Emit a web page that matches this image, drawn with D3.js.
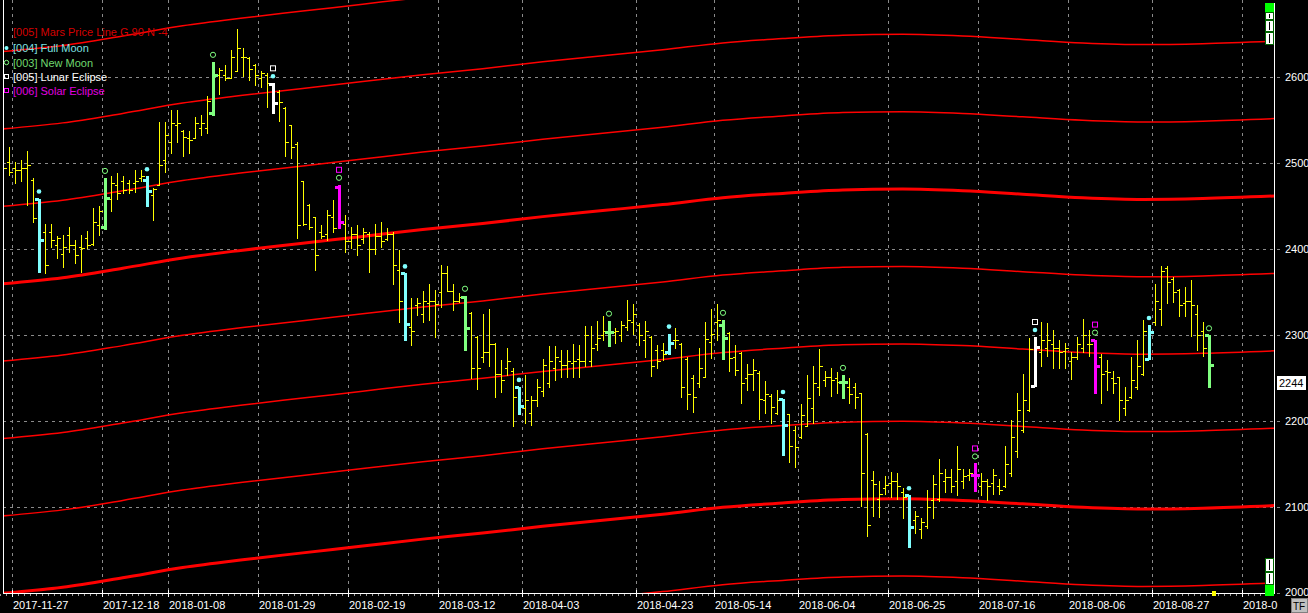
<!DOCTYPE html>
<html>
<head>
<meta charset="utf-8">
<script src="https://cdn.jsdelivr.net/npm/d3@7"></script>
<style>
html, body { margin: 0; padding: 0; background: #000; overflow: hidden; }
svg { display: block; }
</style>
</head>
<body>
<svg id="chart"></svg>
<script>
const WIDTH = 1308;
const HEIGHT = 613;
const PLOT_LEFT = 3;
const PLOT_RIGHT = 1274.5;
const PLOT_TOP = 0;
const PLOT_BOTTOM = 593.5;

// daily bars
const OPEN = [
  2500,2502,2494,2492,2494,2481,2459,2420,2420,2405,
  2395,2417,2405,2403,2413,2406,2428,2426,2459,2475,
  2479,2477,2477,2483,2481,2463,2475,2504,2525,2545,
  2537,2529,2529,2541,2541,2558,2603,2603,2599,2607,
  2624,2622,2614,2599,2603,2592,2583,2564,2545,2523,
  2479,2451,2437,2420,2418,2438,2472,2430,2410,2418,
  2412,2418,2400,2415,2412,2418,2376,2372,2310,2335,
  2325,2338,2340,2350,2372,2352,2340,2345,2326,2298,
  2275,2280,2290,2255,2262,2258,2240,2215,2210,2225,
  2235,2245,2262,2270,2265,2268,2272,2270,2270,2290,
  2300,2304,2304,2300,2310,2316,2312,2295,2298,2283,
  2283,2280,2295,2290,2272,2250,2245,2251,2292,2315,
  2312,2303,2275,2279,2250,2255,2256,2225,2230,2210,
  2226,2209,2190,2182,2195,2215,2240,2248,2252,2250,
  2246,2240,2240,2233,2185,2132,2110,2122,2128,2130,
  2118,2114,2085,2075,2078,2108,2110,2130,2135,2130,
  2130,2138,2138,2125,2130,2128,2125,2125,2140,2165,
  2190,2213,2241,2280,2285,2290,2285,2282,2270,2275,
  2285,2290,2294,2275,2258,2250,2251,2215,2228,2240,
  2255,2273,2315,2330,2378,2365,2353,2338,2340,2325,
  2305,2300
];
const HIGH = [
  2517,2519,2502,2504,2514,2483,2459,2429,2429,2415,
  2417,2426,2411,2417,2421,2448,2450,2483,2485,2489,
  2485,2481,2492,2492,2485,2471,2548,2548,2562,2562,
  2539,2537,2554,2556,2578,2618,2611,2614,2632,2656,
  2634,2624,2616,2607,2605,2593,2585,2566,2545,2525,
  2479,2453,2438,2428,2446,2457,2475,2440,2426,2428,
  2425,2420,2430,2432,2425,2420,2399,2372,2343,2343,
  2351,2360,2353,2382,2381,2360,2349,2346,2327,2299,
  2325,2331,2291,2271,2285,2262,2240,2254,2229,2249,
  2272,2287,2287,2283,2283,2290,2289,2311,2311,2317,
  2322,2317,2309,2317,2341,2336,2314,2317,2299,2289,
  2291,2302,2308,2291,2275,2254,2285,2316,2331,2336,
  2318,2304,2289,2280,2267,2272,2258,2247,2232,2236,
  2226,2209,2195,2220,2254,2264,2284,2259,2262,2257,
  2254,2250,2244,2233,2186,2142,2131,2136,2141,2140,
  2122,2114,2096,2087,2120,2138,2156,2144,2144,2171,
  2144,2145,2151,2140,2133,2145,2133,2171,2202,2233,
  2255,2297,2298,2315,2314,2306,2294,2291,2281,2298,
  2319,2306,2295,2278,2271,2258,2252,2240,2275,2294,
  2318,2312,2360,2381,2381,2368,2354,2356,2364,2335,
  2316,2300
];
const LOW = [
  2479,2486,2477,2479,2452,2432,2374,2372,2403,2390,
  2380,2397,2384,2374,2401,2405,2417,2424,2444,2459,
  2465,2465,2467,2479,2450,2434,2475,2490,2512,2525,
  2508,2512,2529,2533,2535,2556,2581,2597,2599,2607,
  2601,2597,2591,2589,2566,2558,2549,2508,2506,2413,
  2428,2424,2376,2413,2411,2420,2425,2397,2401,2393,
  2407,2374,2395,2403,2411,2360,2315,2295,2289,2324,
  2316,2318,2298,2333,2351,2329,2339,2283,2250,2238,
  2269,2264,2228,2234,2254,2194,2208,2198,2196,2218,
  2229,2240,2248,2251,2251,2251,2251,2264,2264,2283,
  2295,2288,2291,2293,2306,2302,2289,2275,2253,2262,
  2271,2278,2285,2228,2214,2211,2240,2251,2274,2295,
  2273,2258,2254,2221,2236,2236,2203,2210,2198,2209,
  2161,2153,2147,2181,2194,2198,2231,2241,2229,2233,
  2227,2221,2215,2102,2067,2090,2089,2116,2112,2110,
  2087,2054,2070,2064,2076,2088,2107,2118,2118,2114,
  2122,2132,2119,2114,2109,2116,2116,2124,2136,2159,
  2187,2212,2241,2264,2276,2262,2262,2262,2249,2273,
  2281,2276,2233,2221,2236,2233,2202,2207,2227,2237,
  2254,2272,2312,2312,2338,2339,2322,2322,2299,2283,
  2276,2240
];
const CLOSE = [
  2494,2490,2492,2494,2498,2436,2411,2382,2411,2413,
  2403,2405,2393,2401,2405,2432,2444,2460,2477,2465,
  2469,2469,2479,2485,2468,2470,2498,2533,2547,2547,
  2531,2527,2547,2547,2572,2603,2609,2599,2624,2634,
  2624,2610,2603,2605,2593,2570,2571,2525,2519,2428,
  2430,2426,2393,2416,2440,2425,2432,2410,2418,2405,
  2420,2400,2415,2410,2418,2382,2340,2313,2305,2338,
  2340,2340,2336,2372,2352,2340,2345,2309,2262,2262,
  2280,2290,2255,2248,2270,2228,2218,2225,2225,2240,
  2265,2270,2275,2265,2270,2270,2270,2300,2285,2297,
  2305,2304,2305,2312,2318,2325,2300,2305,2264,2270,
  2278,2291,2295,2240,2232,2228,2262,2296,2302,2318,
  2297,2274,2260,2245,2255,2260,2226,2232,2217,2225,
  2196,2171,2170,2207,2227,2245,2264,2251,2248,2246,
  2246,2232,2228,2140,2079,2127,2115,2126,2130,2125,
  2112,2077,2090,2083,2100,2127,2140,2135,2125,2145,
  2136,2140,2138,2130,2125,2138,2120,2150,2182,2213,
  2225,2284,2286,2295,2295,2285,2280,2285,2275,2290,
  2300,2290,2264,2255,2257,2245,2225,2225,2248,2264,
  2305,2304,2340,2375,2362,2350,2335,2340,2335,2300,
  2285,2266
];

// bars flagged by the event studies
const FULL_MOON = [6, 24, 45, 67, 86, 111, 130, 151, 172, 191];
const NEW_MOON = [17, 35, 56, 77, 101, 120, 140, 162, 182, 201];
const LUNAR_ECLIPSE = [45, 172];
const SOLAR_ECLIPSE = [56, 162, 182];

// Mars price line (base harmonic), bar index -> price
const MARS_BAR = [0, 10, 20, 30, 40, 50, 60, 70, 80, 90, 100, 110, 120, 130, 140, 150, 160, 170, 180, 190, 200, 212];
const MARS_PRICE = [2360, 2367, 2378, 2390, 2399, 2407, 2415, 2423, 2430, 2438, 2445, 2452, 2460, 2465, 2469, 2470, 2468, 2464, 2460, 2458, 2459, 2462];
const MARS_GAP = 90;
const MARS_LEVELS = [-5, -4, -3, -2, -1, 0, 1, 2, 3];

const PRICE_TICKS = [2000, 2100, 2200, 2300, 2400, 2500, 2600];
const DATE_TICK_BARS = [2, 17, 28, 43, 58, 73, 87, 106, 119, 133, 148, 163, 178, 192, 207];
const DATE_TICK_LABELS = ['2017-11-27', '2017-12-18', '2018-01-08', '2018-01-29', '2018-02-19', '2018-03-12', '2018-04-03',
  '2018-04-23', '2018-05-14', '2018-06-04', '2018-06-25', '2018-07-16', '2018-08-06', '2018-08-27', '2018-09-17'];
const LAST_PRICE = 2244;

const LEGEND = [
  { text: '[005] Mars Price Line G 90 N -4', color: '#d40000', mark: null },
  { text: '[004] Full Moon', color: '#7fe0e0', mark: 'dot' },
  { text: '[003] New Moon', color: '#6fd86f', mark: 'circle' },
  { text: '[005] Lunar Eclipse', color: '#ffffff', mark: 'square' },
  { text: '[006] Solar Eclipse', color: '#e000e0', mark: 'square' }
];

const FONT = '"Liberation Sans", Arial, sans-serif';
const COLOR_FULL = '#80ffff';
const COLOR_NEW = '#80ff80';
const COLOR_LUNAR = '#ffffff';
const COLOR_SOLAR = '#ff00ff';

const nBars = OPEN.length;

const xScale = d3.scaleLinear().domain([0, 212]).range([2.7, 2.7 + 6 * 212]);
const yScale = d3.scaleLinear().domain([2000, 2600]).range([593.3, 77.3]);
const px = i => Math.round(xScale(i)) + 0.5;

const svg = d3.select('#chart').attr('width', WIDTH).attr('height', HEIGHT)
  .style('background', '#000');

const defs = svg.append('defs');
defs.append('clipPath').attr('id', 'plot-clip')
  .append('rect').attr('x', PLOT_LEFT).attr('y', PLOT_TOP)
  .attr('width', PLOT_RIGHT - PLOT_LEFT).attr('height', PLOT_BOTTOM - PLOT_TOP);

// grid
const grid = svg.append('g').attr('stroke', '#8a8a8a').attr('stroke-width', 1).attr('stroke-dasharray', '3,4');
grid.selectAll('line.h').data(PRICE_TICKS).join('line')
  .attr('class', 'h')
  .attr('x1', PLOT_LEFT).attr('x2', 1281)
  .attr('y1', d => Math.round(yScale(d)) + 0.5)
  .attr('y2', d => Math.round(yScale(d)) + 0.5);
grid.selectAll('line.v').data(DATE_TICK_BARS).join('line')
  .attr('class', 'v')
  .attr('x1', d => Math.round(xScale(d) - 3) + 0.5)
  .attr('x2', d => Math.round(xScale(d) - 3) + 0.5)
  .attr('y1', PLOT_TOP).attr('y2', PLOT_BOTTOM);

// Mars price lines
const marsPts = MARS_BAR.map((b, i) => ({ bar: b, price: MARS_PRICE[i] }));
const marsG = svg.append('g').attr('clip-path', 'url(#plot-clip)');
MARS_LEVELS.forEach(level => {
  const line = d3.line()
    .x(d => xScale(d.bar))
    .y(d => yScale(d.price + level * MARS_GAP))
    .curve(d3.curveMonotoneX);
  marsG.append('path')
    .datum(marsPts)
    .attr('fill', 'none')
    .attr('stroke', '#ff0000')
    .attr('stroke-width', level % 4 === 0 ? 3 : 1.5)
    .attr('d', line);
});

// OHLC bars
const bars = d3.range(nBars).map(i => ({
  i, o: OPEN[i], h: HIGH[i], l: LOW[i], c: CLOSE[i],
  full: FULL_MOON.includes(i), nw: NEW_MOON.includes(i),
  lunar: LUNAR_ECLIPSE.includes(i), solar: SOLAR_ECLIPSE.includes(i)
}));
const barColor = d => d.solar ? COLOR_SOLAR : d.lunar ? COLOR_LUNAR : d.full ? COLOR_FULL : d.nw ? COLOR_NEW : '#ffff00';
const isEvent = d => d.full || d.nw || d.lunar || d.solar;

const barG = svg.append('g').attr('clip-path', 'url(#plot-clip)').attr('shape-rendering', 'crispEdges');
const plain = bars.filter(d => !isEvent(d));
const special = bars.filter(isEvent);

const pg = barG.selectAll('g.bar').data(plain).join('g').attr('class', 'bar').attr('stroke', '#ffff00');
pg.append('line').attr('x1', d => px(d.i)).attr('x2', d => px(d.i))
  .attr('y1', d => Math.round(yScale(d.h))).attr('y2', d => Math.round(yScale(d.l)) + 1);
pg.append('line').attr('x1', d => px(d.i) - 3).attr('x2', d => px(d.i))
  .attr('y1', d => Math.round(yScale(d.o)) + 0.5).attr('y2', d => Math.round(yScale(d.o)) + 0.5);
pg.append('line').attr('x1', d => px(d.i)).attr('x2', d => px(d.i) + 3)
  .attr('y1', d => Math.round(yScale(d.c)) + 0.5).attr('y2', d => Math.round(yScale(d.c)) + 0.5);

const sg = barG.selectAll('g.ev').data(special).join('g').attr('class', 'ev')
  .attr('fill', barColor);
sg.append('rect').attr('x', d => px(d.i) - 1.5).attr('width', 3)
  .attr('y', d => Math.round(yScale(d.h))).attr('height', d => Math.round(yScale(d.l)) - Math.round(yScale(d.h)) + 1);
sg.append('rect').attr('x', d => px(d.i) - 4.5).attr('width', 4).attr('height', 3)
  .attr('y', d => Math.round(yScale(d.o)) - 1);
sg.append('rect').attr('x', d => px(d.i) + 0.5).attr('width', 4).attr('height', 3)
  .attr('y', d => Math.round(yScale(d.c)) - 1);

// event markers above the bars
const markG = svg.append('g');
special.forEach(d => {
  const x = px(d.i) - 0.5;
  let y = yScale(d.h) - 7;
  if (d.full) {
    markG.append('circle').attr('cx', x).attr('cy', y).attr('r', 2.3).attr('fill', COLOR_FULL);
    y -= 8;
  } else if (d.nw) {
    markG.append('circle').attr('cx', x).attr('cy', y).attr('r', 2.6)
      .attr('fill', 'none').attr('stroke', COLOR_NEW).attr('stroke-width', 1);
    y -= 8;
  }
  if (d.lunar || d.solar) {
    markG.append('rect').attr('x', x - 2.5).attr('y', y - 2.5).attr('width', 5).attr('height', 5)
      .attr('fill', 'none').attr('stroke', d.lunar ? COLOR_LUNAR : COLOR_SOLAR).attr('stroke-width', 1);
  }
});

// frame
const frame = svg.append('g').attr('stroke', '#ffffff').attr('stroke-width', 1).attr('shape-rendering', 'crispEdges');
frame.append('line').attr('x1', PLOT_LEFT + 0.5).attr('x2', PLOT_LEFT + 0.5).attr('y1', 0).attr('y2', PLOT_BOTTOM);
frame.append('line').attr('x1', PLOT_RIGHT).attr('x2', PLOT_RIGHT).attr('y1', 2.5).attr('y2', PLOT_BOTTOM);
frame.append('line').attr('x1', PLOT_LEFT).attr('x2', PLOT_RIGHT).attr('y1', PLOT_BOTTOM).attr('y2', PLOT_BOTTOM);

// x axis small ticks
svg.append('g').attr('stroke', '#9a9a9a').attr('shape-rendering', 'crispEdges')
  .selectAll('line').data(d3.range(0, 212)).join('line')
  .attr('x1', d => Math.round(xScale(d) - 3) + 0.5).attr('x2', d => Math.round(xScale(d) - 3) + 0.5)
  .attr('y1', PLOT_BOTTOM + 0.5).attr('y2', PLOT_BOTTOM + 2);
svg.append('g').attr('stroke', '#ffffff').attr('shape-rendering', 'crispEdges')
  .selectAll('line').data(DATE_TICK_BARS).join('line')
  .attr('x1', d => Math.round(xScale(d) - 3) + 0.5).attr('x2', d => Math.round(xScale(d) - 3) + 0.5)
  .attr('y1', PLOT_BOTTOM - 4).attr('y2', PLOT_BOTTOM + 3);

// date labels; the last one is cut at the right border like the original
const dateText = svg.append('g')
  .selectAll('text').data(DATE_TICK_BARS).join('text')
  .attr('x', d => Math.round(xScale(d) - 3) + 1)
  .attr('y', 608.5)
  .attr('fill', '#ffffff')
  .attr('font-family', FONT).attr('font-size', 11)
  .text((d, i) => DATE_TICK_LABELS[i]);
dateText.each(function() {
  const t = d3.select(this);
  const x0 = +t.attr('x');
  let s = t.text();
  while (s.length > 1 && x0 + this.getComputedTextLength() > PLOT_RIGHT + 4) {
    s = s.slice(0, -1);
    t.text(s);
  }
});

// y axis labels
svg.append('g').selectAll('text').data(PRICE_TICKS).join('text')
  .attr('x', 1285).attr('y', d => Math.min(yScale(d) + 4, 595.5))
  .attr('fill', '#ffffff')
  .attr('font-family', FONT).attr('font-size', 11)
  .text(d => d);

// last price tag
const lastY = yScale(LAST_PRICE);
svg.append('rect').attr('x', 1276.5).attr('y', Math.round(lastY) - 7.5).attr('width', 30).attr('height', 15)
  .attr('fill', '#ffffff').attr('stroke', '#000').attr('shape-rendering', 'crispEdges');
svg.append('text').attr('x', 1279).attr('y', lastY + 4)
  .attr('fill', '#000').attr('font-family', FONT).attr('font-size', 11).text(LAST_PRICE);

// legend
const leg = svg.append('g');
LEGEND.forEach((d, i) => {
  const y = [31.5, 48, 62.5, 76.5, 90.5][i];
  leg.append('text').attr('x', 13).attr('y', y + 4)
    .attr('fill', d.color).attr('font-family', FONT).attr('font-size', 11).text(d.text);
  if (d.mark === 'dot') {
    leg.append('circle').attr('cx', 6.5).attr('cy', y).attr('r', 2).attr('fill', COLOR_FULL);
  } else if (d.mark === 'circle') {
    leg.append('circle').attr('cx', 6.5).attr('cy', y).attr('r', 2.2)
      .attr('fill', 'none').attr('stroke', COLOR_NEW).attr('stroke-width', 1);
  } else if (d.mark === 'square') {
    leg.append('rect').attr('x', 4.5).attr('y', y - 2).attr('width', 4).attr('height', 4)
      .attr('fill', 'none').attr('stroke', i === 3 ? COLOR_LUNAR : COLOR_SOLAR).attr('stroke-width', 1);
  }
});

// scroll / zoom widgets at the right edge
const wid = svg.append('g').attr('shape-rendering', 'crispEdges');
wid.append('rect').attr('x', 1265).attr('y', 3).attr('width', 9).attr('height', 9).attr('fill', '#00ff00');
[[12, 7], [20, 11], [32, 12], [558, 13], [572, 12]].forEach(([y, h]) => {
  wid.append('rect').attr('x', 1265.5).attr('y', y + 0.5).attr('width', 8).attr('height', h)
    .attr('fill', '#ffffff').attr('stroke', '#006400');
  wid.append('line').attr('x1', 1269.5).attr('x2', 1269.5).attr('y1', y + 2).attr('y2', y + h - 1)
    .attr('stroke', '#000');
});
wid.append('rect').attr('x', 1265).attr('y', 585).attr('width', 9).attr('height', 8).attr('fill', '#00ff00');
wid.append('rect').attr('x', 1212).attr('y', 591).attr('width', 4).attr('height', 5).attr('fill', '#ffff00');
wid.append('rect').attr('x', 1265).attr('y', 590).attr('width', 9).attr('height', 6).attr('fill', '#00ff00');

// TF button
svg.append('rect').attr('x', 1291).attr('y', 598).attr('width', 16).attr('height', 14)
  .attr('fill', '#c0c0c0').attr('stroke', '#808080').attr('shape-rendering', 'crispEdges');
svg.append('text').attr('x', 1299).attr('y', 609.5).attr('text-anchor', 'middle')
  .attr('fill', '#000').attr('font-family', FONT).attr('font-size', 10).text('TF');
</script>
</body>
</html>
